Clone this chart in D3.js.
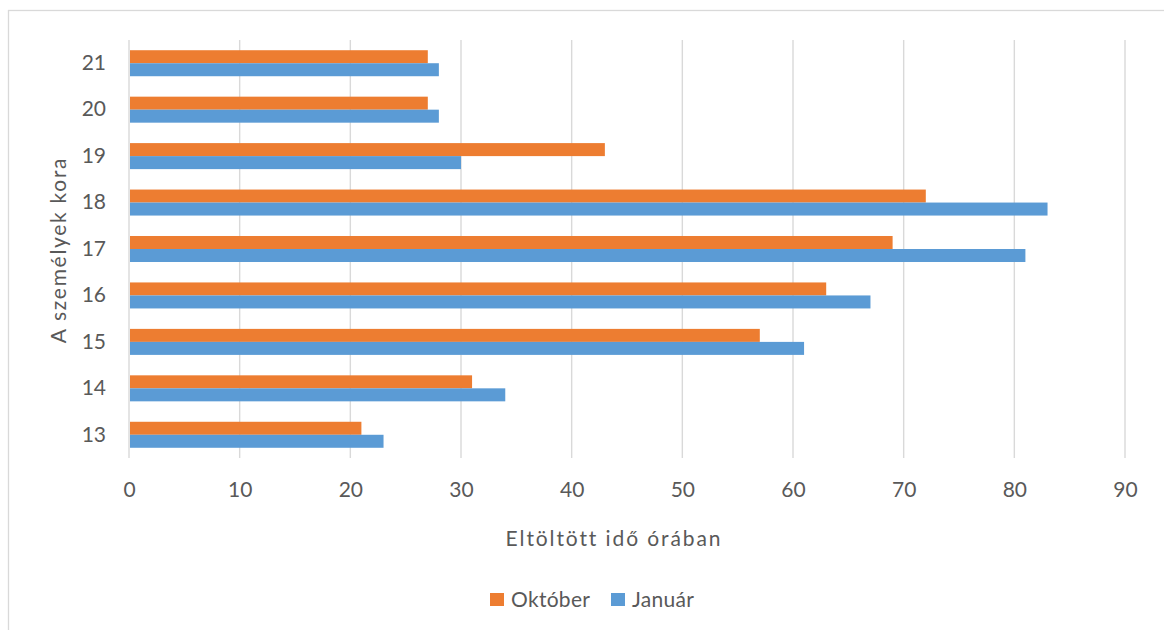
<!DOCTYPE html>
<html>
<head>
<meta charset="utf-8">
<script src="https://cdn.jsdelivr.net/npm/d3@7"></script>
<style>
  html, body { margin: 0; padding: 0; background: #fff; }
  svg { display: block; }
  text { font-family: Lato, "Open Sans", sans-serif; fill: #595959; }
</style>
</head>
<body>
<svg id="chart" width="1164" height="630"></svg>
<script>
// Ages of the respondents (category axis)
const ages = ["13", "14", "15", "16", "17", "18", "19", "20", "21"];
// Hours spent, per survey month
const oktober = [21, 31, 57, 63, 69, 72, 43, 27, 27];
const januar  = [23, 34, 61, 67, 81, 83, 30, 28, 28];
const seriesNames = ["Október", "Január"];
const seriesColors = ["#ED7D31", "#5B9BD5"];
const xTicks = [0, 10, 20, 30, 40, 50, 60, 70, 80, 90];

const rows = ages.map((a, i) => ({ age: a, values: [oktober[i], januar[i]] }));

const svg = d3.select("#chart");

// outer chart frame
svg.append("rect")
  .attr("x", 8.5).attr("y", 10.5)
  .attr("width", 1200).attr("height", 700)
  .attr("fill", "#fff").attr("stroke", "#D9D9D9").attr("stroke-width", 1.3);

const plot = { left: 129, right: 1125, top: 40, bottom: 458 };

const x = d3.scaleLinear().domain([0, 90]).range([plot.left, plot.right]);
const y = d3.scaleBand()
  .domain(ages.slice().reverse())
  .range([plot.top, plot.bottom])
  .paddingInner(0.44)
  .paddingOuter(0.22);
const ySub = d3.scaleBand().domain([0, 1]).range([0, y.bandwidth()]);

// vertical gridlines
svg.append("g")
  .selectAll("line")
  .data(xTicks)
  .join("line")
  .attr("x1", d => x(d)).attr("x2", d => x(d))
  .attr("y1", plot.top).attr("y2", plot.bottom)
  .attr("stroke", "#D9D9D9").attr("stroke-width", 1.4);

// bars
const groups = svg.append("g")
  .selectAll("g")
  .data(rows)
  .join("g")
  .attr("transform", d => `translate(0,${y(d.age)})`);

groups.selectAll("rect")
  .data(d => d.values.map((v, k) => ({ v, k })))
  .join("rect")
  .attr("x", x(0) + 1)
  .attr("y", d => ySub(d.k))
  .attr("width", d => x(d.v) - x(0) - 1)
  .attr("height", ySub.bandwidth())
  .attr("fill", d => seriesColors[d.k]);

// x axis tick labels
const xAxis = d3.axisBottom(x).tickValues(xTicks).tickSize(0).tickPadding(0).tickFormat(d3.format("d"));
const gx = svg.append("g").attr("transform", `translate(0,${plot.bottom + 24})`).call(xAxis);
gx.select(".domain").remove();
gx.selectAll("text").attr("font-size", 21).attr("fill", "#595959")
  .style("font-family", "Lato, 'Open Sans', sans-serif");

// y axis tick labels
const yAxis = d3.axisLeft(y).tickSize(0).tickPadding(23);
const gy = svg.append("g").attr("transform", `translate(${plot.left},0)`).call(yAxis);
gy.select(".domain").remove();
gy.selectAll("text").attr("font-size", 21).attr("fill", "#595959")
  .style("font-family", "Lato, 'Open Sans', sans-serif");

// axis titles
svg.append("text")
  .attr("x", 614).attr("y", 546)
  .attr("text-anchor", "middle")
  .attr("font-size", 21)
  .attr("letter-spacing", 1.9)
  .text("Eltöltött idő órában");

svg.append("text")
  .attr("transform", "translate(66,250) rotate(-90)")
  .attr("text-anchor", "middle")
  .attr("font-size", 21)
  .attr("letter-spacing", 1.7)
  .text("A személyek kora");

// legend
const legendItems = [
  { name: seriesNames[0], color: seriesColors[0], x: 490 },
  { name: seriesNames[1], color: seriesColors[1], x: 611 }
];
const lg = svg.append("g").selectAll("g").data(legendItems).join("g")
  .attr("transform", d => `translate(${d.x},593)`);
lg.append("rect").attr("width", 14).attr("height", 13).attr("fill", d => d.color);
lg.append("text").attr("x", 21).attr("y", 14).attr("font-size", 21)
  .attr("letter-spacing", 0.3).text(d => d.name);
</script>
</body>
</html>
